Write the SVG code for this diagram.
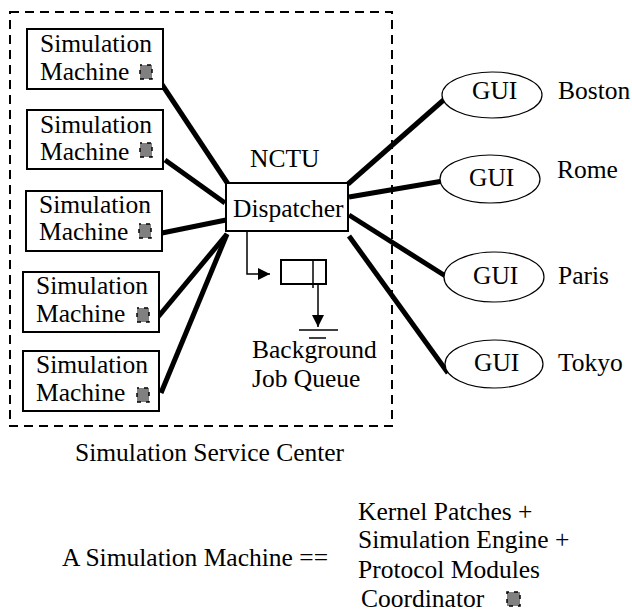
<svg xmlns="http://www.w3.org/2000/svg" width="632" height="612" viewBox="0 0 632 612">
<defs>
<style>
text{font-family:'Liberation Serif','Tinos','Times New Roman','DejaVu Serif',serif;font-size:25.5px;fill:#000}
.box{fill:#fff;stroke:#000;stroke-width:2}
.sq{fill:#808080;stroke:#000;stroke-width:1.5;stroke-dasharray:4 5;stroke-dashoffset:2}
.thick{stroke:#000;stroke-width:5;fill:none}
.thin{stroke:#000;stroke-width:1.5;fill:none}
.gui{fill:#fff;stroke:#000;stroke-width:1.2}
</style>
<marker id="ah" viewBox="0 0 10 10" refX="10" refY="5" markerWidth="12" markerHeight="12" markerUnits="userSpaceOnUse" orient="auto">
<path d="M0,0 L10,5 L0,10 Z" fill="#000"/>
</marker>
</defs>
<rect width="632" height="612" fill="#fff"/>
<g id="center">
<rect x="10" y="12" width="382" height="414" fill="none" stroke="#000" stroke-width="2" stroke-dasharray="9 6"/>
<text x="75" y="461">Simulation Service Center</text>
</g>
<g id="connectors">
<line class="thick" x1="161" y1="83" x2="228" y2="184"/>
<line class="thick" x1="165" y1="160" x2="225" y2="203"/>
<line class="thick" x1="162" y1="233" x2="226" y2="220"/>
<line class="thick" x1="158" y1="317" x2="227" y2="234"/>
<line class="thick" x1="161" y1="393" x2="227" y2="234"/>
<line class="thick" x1="348" y1="184" x2="447" y2="97"/>
<line class="thick" x1="349" y1="197" x2="443" y2="181"/>
<line class="thick" x1="349" y1="215" x2="447" y2="277"/>
<line class="thick" x1="349" y1="236" x2="448" y2="373"/>
<polyline class="thin" points="247,231 247,274 270,274" marker-end="url(#ah)"/>
<line class="thin" x1="318" y1="278" x2="318" y2="327" marker-end="url(#ah)"/>
</g>
<g id="sm1">
<rect class="box" x="27" y="29" width="136" height="60"/>
<text x="40" y="52">Simulation</text>
<text x="40" y="80">Machine</text>
<rect class="sq" x="140" y="65" width="12" height="14"/>
</g>
<g id="sm2">
<rect class="box" x="27" y="110" width="136" height="59"/>
<text x="40" y="133">Simulation</text>
<text x="40" y="160">Machine</text>
<rect class="sq" x="140" y="143" width="12" height="14"/>
</g>
<g id="sm3">
<rect class="box" x="26" y="191" width="136" height="60"/>
<text x="39" y="213">Simulation</text>
<text x="39" y="240">Machine</text>
<rect class="sq" x="139" y="224" width="12" height="14"/>
</g>
<g id="sm4">
<rect class="box" x="23" y="272" width="136" height="60"/>
<text x="36" y="294">Simulation</text>
<text x="36" y="322">Machine</text>
<rect class="sq" x="137" y="308" width="12" height="14"/>
</g>
<g id="sm5">
<rect class="box" x="23" y="351" width="136" height="60"/>
<text x="36" y="373">Simulation</text>
<text x="36" y="401">Machine</text>
<rect class="sq" x="137" y="388" width="12" height="14"/>
</g>
<g id="dispatcher">
<text x="250" y="167">NCTU</text>
<rect class="box" x="226" y="183" width="122" height="48"/>
<text x="233" y="217">Dispatcher</text>
</g>
<g id="queue">
<rect x="281" y="260" width="45" height="24" fill="#fff" stroke="#000" stroke-width="2"/>
<line class="thin" x1="313" y1="260" x2="313" y2="288" stroke-width="2"/>
<line class="thin" x1="299" y1="330" x2="338" y2="330" stroke-width="2"/>
<line class="thin" x1="309" y1="338" x2="326" y2="338" stroke-width="2"/>
<text x="252" y="358">Background</text>
<text x="252" y="387">Job Queue</text>
</g>
<g id="gui-boston">
<ellipse class="gui" cx="492" cy="95" rx="50" ry="23"/>
<text x="472" y="99">GUI</text>
<text x="558" y="99">Boston</text>
</g>
<g id="gui-rome">
<ellipse class="gui" cx="490" cy="179" rx="50" ry="24"/>
<text x="469" y="186">GUI</text>
<text x="557" y="178">Rome</text>
</g>
<g id="gui-paris">
<ellipse class="gui" cx="494" cy="277" rx="50" ry="25"/>
<text x="473" y="284">GUI</text>
<text x="558" y="284">Paris</text>
</g>
<g id="gui-tokyo">
<ellipse class="gui" cx="494" cy="364" rx="49" ry="24"/>
<text x="474" y="371">GUI</text>
<text x="558" y="371">Tokyo</text>
</g>
<g id="legend">
<text x="62" y="566">A Simulation Machine ==</text>
<text x="358" y="520">Kernel Patches +</text>
<text x="358" y="548">Simulation Engine +</text>
<text x="358" y="578">Protocol Modules</text>
<text x="361" y="607">Coordinator</text>
<rect class="sq" x="507" y="592" width="13" height="14"/>
</g>
</svg>
